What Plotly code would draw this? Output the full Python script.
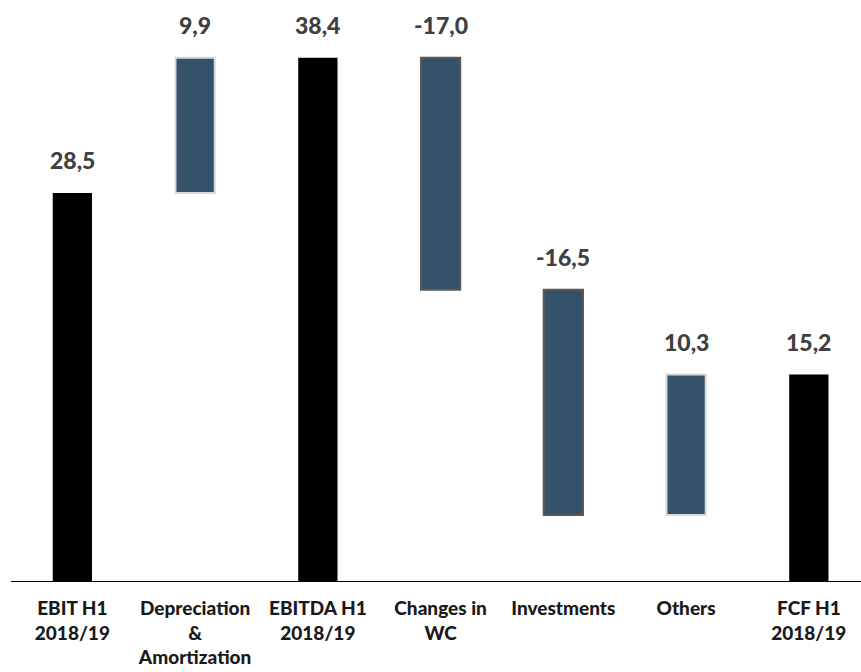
import plotly.graph_objects as go

categories = ["EBIT H1<br>2018/19", "Depreciation<br>&<br>Amortization", "EBITDA H1<br>2018/19",
              "Changes in<br>WC", "Investments", "Others", "FCF H1<br>2018/19"]
values = [28.5, 9.9, 38.4, -17.0, -16.5, 10.3, 15.2]
measures = ["absolute", "relative", "total", "relative", "relative", "relative", "total"]
labels = ["28,5", "9,9", "38,4", "-17,0", "-16,5", "10,3", "15,2"]

xs = list(range(len(categories)))

# tops of each bar for labels
tops = []
cum = 0.0
for v, m in zip(values, measures):
    if m == "absolute":
        cum = v
        tops.append(v)
    elif m == "total":
        tops.append(cum)
    else:
        start = cum
        cum = cum + v
        tops.append(max(start, cum))

fig = go.Figure()
fig.add_trace(go.Waterfall(
    x=xs, y=values, measure=measures,
    width=0.32,
    connector=dict(visible=False),
    increasing=dict(marker=dict(color="#35526B", line=dict(color="#D9D9D9", width=2))),
    decreasing=dict(marker=dict(color="#35526B", line=dict(color="#595959", width=2))),
    totals=dict(marker=dict(color="#000000", line=dict(color="#000000", width=0))),
    textinfo="none",
    hoverinfo="skip",
))

for x, t, lab in zip(xs, tops, labels):
    fig.add_annotation(x=x, y=t, text=lab, showarrow=False, yanchor="middle", yshift=33,
                       font=dict(family="Lato", size=23, color="#404040", weight=900))

fig.update_layout(
    width=861, height=672,
    margin=dict(l=11, r=0, t=10, b=90),
    plot_bgcolor="white", paper_bgcolor="white",
    showlegend=False,
    xaxis=dict(range=[-0.5, 6.425], tickvals=xs, ticktext=categories,
               showgrid=False, zeroline=False, showline=False, ticks="",
               tickfont=dict(family="Lato", size=19, color="#1A1A1A", weight=900),
               ticklabelstandoff=13),
    yaxis=dict(range=[0, 41.9], visible=False, showgrid=False, zeroline=False),
    shapes=[dict(type="line", xref="paper", yref="y", x0=0, x1=1, y0=0, y1=0,
                 line=dict(color="#000000", width=2))],
)

fig.write_html("out.html")
